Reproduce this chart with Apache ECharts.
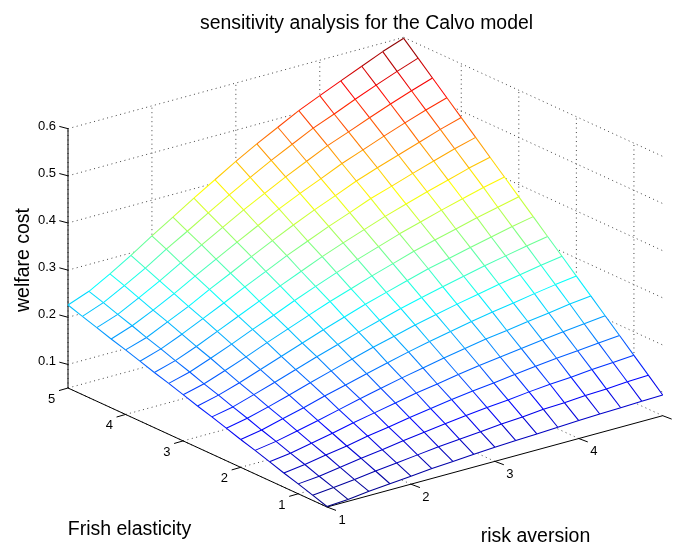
<!DOCTYPE html>
<html>
<head>
<meta charset="utf-8">
<style>html,body{margin:0;padding:0;background:#fff}#chart{width:674px;height:547px}</style>
<script src="https://cdn.jsdelivr.net/npm/echarts@6/dist/echarts.min.js"></script>
</head>
<body>
<div id="chart"></div>
<script>
// ---------- data ----------
const riskAversion = [1,1.25,1.5,1.75,2,2.25,2.5,2.75,3,3.25,3.5,3.75,4,4.25,4.5,4.75,5];
const frishElasticity = [0.5,0.75,1,1.25,1.5,1.75,2,2.25,2.5,2.75,3,3.25,3.5,3.75,4,4.25,4.5,4.75,5];
// one row per risk aversion value, one column per Frish elasticity value
const welfareCost = [
[.051,.061,.071,.080,.090,.100,.109,.119,.129,.138,.148,.158,.167,.177,.187,.196,.206,.216,.226],
[.054,.065,.075,.086,.096,.107,.117,.128,.138,.149,.159,.170,.180,.191,.201,.212,.222,.233,.243],
[.059,.070,.082,.094,.105,.117,.129,.140,.152,.163,.175,.187,.198,.210,.222,.233,.245,.257,.268],
[.063,.076,.089,.101,.114,.127,.140,.153,.166,.179,.192,.205,.218,.231,.243,.256,.269,.282,.295],
[.067,.081,.095,.110,.124,.138,.153,.167,.181,.195,.210,.224,.238,.252,.267,.281,.295,.310,.324],
[.071,.086,.102,.117,.133,.149,.164,.180,.196,.211,.227,.242,.258,.274,.289,.305,.321,.336,.352],
[.074,.091,.108,.125,.142,.159,.176,.193,.210,.227,.244,.261,.278,.295,.312,.329,.346,.363,.380],
[.077,.095,.114,.132,.151,.169,.187,.206,.224,.242,.261,.279,.297,.316,.334,.352,.371,.389,.407],
[.080,.099,.119,.139,.158,.178,.198,.217,.237,.257,.276,.296,.316,.335,.355,.375,.394,.414,.434],
[.082,.103,.124,.145,.166,.187,.208,.229,.250,.270,.291,.312,.333,.354,.375,.396,.417,.438,.459],
[.084,.106,.128,.150,.173,.195,.217,.239,.261,.283,.305,.327,.349,.371,.393,.415,.438,.460,.482],
[.086,.110,.133,.156,.179,.203,.226,.249,.272,.296,.319,.342,.365,.389,.412,.435,.459,.482,.505],
[.088,.112,.137,.161,.185,.209,.234,.258,.282,.306,.331,.355,.379,.403,.428,.452,.476,.500,.525],
[.090,.115,.140,.166,.191,.216,.241,.267,.292,.317,.342,.368,.393,.418,.443,.469,.494,.519,.544],
[.091,.117,.144,.170,.196,.222,.249,.275,.301,.327,.354,.380,.406,.432,.458,.485,.511,.537,.563],
[.093,.120,.147,.174,.201,.229,.256,.283,.310,.337,.364,.392,.419,.446,.473,.500,.527,.554,.582],
[.094,.122,.150,.178,.206,.234,.262,.290,.318,.346,.374,.402,.430,.458,.486,.514,.542,.570,.598]
];
const xTicks = [1,2,3,4,5];
const yTicks = [1,2,3,4,5];
const zTicks = [0.1,0.2,0.3,0.4,0.5,0.6];
const xTickLabels = ['1','2','3','4'];
const yTickLabels = ['1','2','3','4','5'];
const zTickLabels = ['0.1','0.2','0.3','0.4','0.5','0.6'];
const titleText = 'sensitivity analysis for the Calvo model';
const xName = 'risk aversion';
const yName = 'Frish elasticity';
const zName = 'welfare cost';

// ---------- axis limits and the oblique view ----------
const xLim = [1,5], yLim = [0.5,5], zLim = [0.05,0.6];
const origin = [327,507];
const xVec = [335.7,-91.3], yVec = [-259,-119], zVec = [0,-471.5];
function project(x,y,z){
  const a=(x-xLim[0])/(xLim[1]-xLim[0]), b=(y-yLim[0])/(yLim[1]-yLim[0]), c=(z-zLim[0])/(zLim[1]-zLim[0]);
  const zh=c*(zLim[1]-zLim[0]);
  return [origin[0]+a*xVec[0]+b*yVec[0]+zh*zVec[0], origin[1]+a*xVec[1]+b*yVec[1]+zh*zVec[1]];
}
function jet(f){
  const c=v=>Math.round(255*Math.max(0,Math.min(1,v)));
  return 'rgb('+c(1.5-Math.abs(4*f-3))+','+c(1.5-Math.abs(4*f-2))+','+c(1.5-Math.abs(4*f-1))+')';
}
const flat=welfareCost.reduce((a,r)=>a.concat(r),[]);
const cMin=Math.min.apply(null,flat), cMax=Math.max.apply(null,flat);

// ---------- build segments ----------
const gridSegs=[], meshSegs=[], cells=[], axisSegs=[], labels=[];
const seg=(p,q)=>p.concat(q);
const zb=zLim[0], zt=zLim[1], x0=xLim[0], x1=xLim[1], y0=yLim[0], y1=yLim[1];
xTicks.forEach(x=>{
  gridSegs.push(seg(project(x,y0,zb),project(x,y1,zb)));
  gridSegs.push(seg(project(x,y1,zb),project(x,y1,zt)));
});
yTicks.forEach(y=>{
  gridSegs.push(seg(project(x0,y,zb),project(x1,y,zb)));
  gridSegs.push(seg(project(x1,y,zb),project(x1,y,zt)));
});
zTicks.forEach(z=>{
  gridSegs.push(seg(project(x0,y1,z),project(x1,y1,z)));
  gridSegs.push(seg(project(x1,y1,z),project(x1,y0,z)));
});
riskAversion.forEach((x,i)=>frishElasticity.forEach((y,j)=>{
  const z=welfareCost[i][j], p=project(x,y,z);
  if(i<riskAversion.length-1){
    const z2=welfareCost[i+1][j];
    meshSegs.push(seg(p,project(riskAversion[i+1],y,z2)).concat([(z+z2)/2]));
  }
  if(j<frishElasticity.length-1){
    const z2=welfareCost[i][j+1];
    meshSegs.push(seg(p,project(x,frishElasticity[j+1],z2)).concat([(z+z2)/2]));
  }
  if(i<riskAversion.length-1&&j<frishElasticity.length-1){
    cells.push([i,j]);
  }
}));
axisSegs.push(seg(project(x0,y0,zb),project(x1,y0,zb)));
axisSegs.push(seg(project(x0,y0,zb),project(x0,y1,zb)));
axisSegs.push(seg(project(x0,y1,zb),project(x0,y1,zt)));
const off=(p,d)=>[p[0]+d[0],p[1]+d[1]];
xTicks.forEach((x,k)=>{
  const p=project(x,y0,zb);
  axisSegs.push(seg(p,off(p,[9,3.4])));
  if(xTickLabels[k]) labels.push({value:off(p,[15,13]),text:xTickLabels[k],align:'center'});
});
yTicks.forEach((y,k)=>{
  const p=project(x0,y,zb);
  axisSegs.push(seg(p,off(p,[-9,2.6])));
  labels.push({value:off(p,[-16.3,11.3]),text:yTickLabels[k],align:'center'});
});
zTicks.forEach((z,k)=>{
  const p=project(x0,y1,z);
  axisSegs.push(seg(p,off(p,[-8.7,-2.3])));
  labels.push({value:off(p,[-12,-2.7]),text:zTickLabels[k],align:'right'});
});

// ---------- chart ----------
const font='"Liberation Sans", Arial, Helvetica, sans-serif';
function lineSeries(name,data,z,styleFn){
  return {
    type:'custom',name,coordinateSystem:'cartesian2d',data,z,silent:true,clip:false,animation:false,
    encode:{x:[0,2],y:[1,3]},
    renderItem(params,api){
      const a=api.coord([api.value(0),api.value(1)]), b=api.coord([api.value(2),api.value(3)]);
      return {type:'line',shape:{x1:a[0],y1:a[1],x2:b[0],y2:b[1]},style:styleFn(api)};
    }
  };
}
const chart=echarts.init(document.getElementById('chart'),null,{renderer:'canvas'});
chart.setOption({
  backgroundColor:'#fff',
  animation:false,
  title:{text:titleText,left:195,top:9,textStyle:{fontFamily:font,fontSize:19.4,fontWeight:'normal',color:'#000'}},
  grid:{left:0,right:0,top:0,bottom:0},
  xAxis:{type:'value',min:0,max:674,show:false},
  yAxis:{type:'value',min:0,max:547,inverse:true,show:false},
  series:[
    lineSeries('grid',gridSegs,1,()=>({stroke:'#444',lineWidth:1,lineDash:[1,3.5]})),
    {
      type:'custom',name:'surface',coordinateSystem:'cartesian2d',data:cells,z:2,silent:true,clip:false,animation:false,
      renderItem(params,api){
        const i=api.value(0), j=api.value(1);
        const corners=[[i,j],[i+1,j],[i+1,j+1],[i,j+1]].map(c=>
          api.coord(project(riskAversion[c[0]],frishElasticity[c[1]],welfareCost[c[0]][c[1]])));
        return {type:'polygon',shape:{points:corners},style:{fill:'#fff',stroke:'#fff',lineWidth:0.5}};
      }
    },
    lineSeries('axes',axisSegs,3,()=>({stroke:'#000',lineWidth:1})),
    lineSeries('mesh',meshSegs,4,api=>({stroke:jet((api.value(4)-cMin)/(cMax-cMin)),lineWidth:1.05})),
    {
      type:'custom',name:'tick labels',coordinateSystem:'cartesian2d',z:5,silent:true,clip:false,animation:false,
      data:labels.map(l=>({value:l.value,text:l.text,align:l.align})),
      renderItem(params,api){
        const l=labels[params.dataIndex], p=api.coord(l.value);
        return {type:'text',x:p[0],y:p[1],style:{text:l.text,font:'13px '+font,fill:'#000',align:l.align,verticalAlign:'middle'}};
      }
    }
  ],
  graphic:[
    {type:'text',x:129.5,y:529.5,style:{text:yName,font:'19.5px '+font,fill:'#000',align:'center',verticalAlign:'middle'}},
    {type:'text',x:535.5,y:536.5,style:{text:xName,font:'19.5px '+font,fill:'#000',align:'center',verticalAlign:'middle'}},
    {type:'text',x:24,y:260,rotation:Math.PI/2,style:{text:zName,font:'19.5px '+font,fill:'#000',align:'center',verticalAlign:'middle'}}
  ]
});
</script>
</body>
</html>
